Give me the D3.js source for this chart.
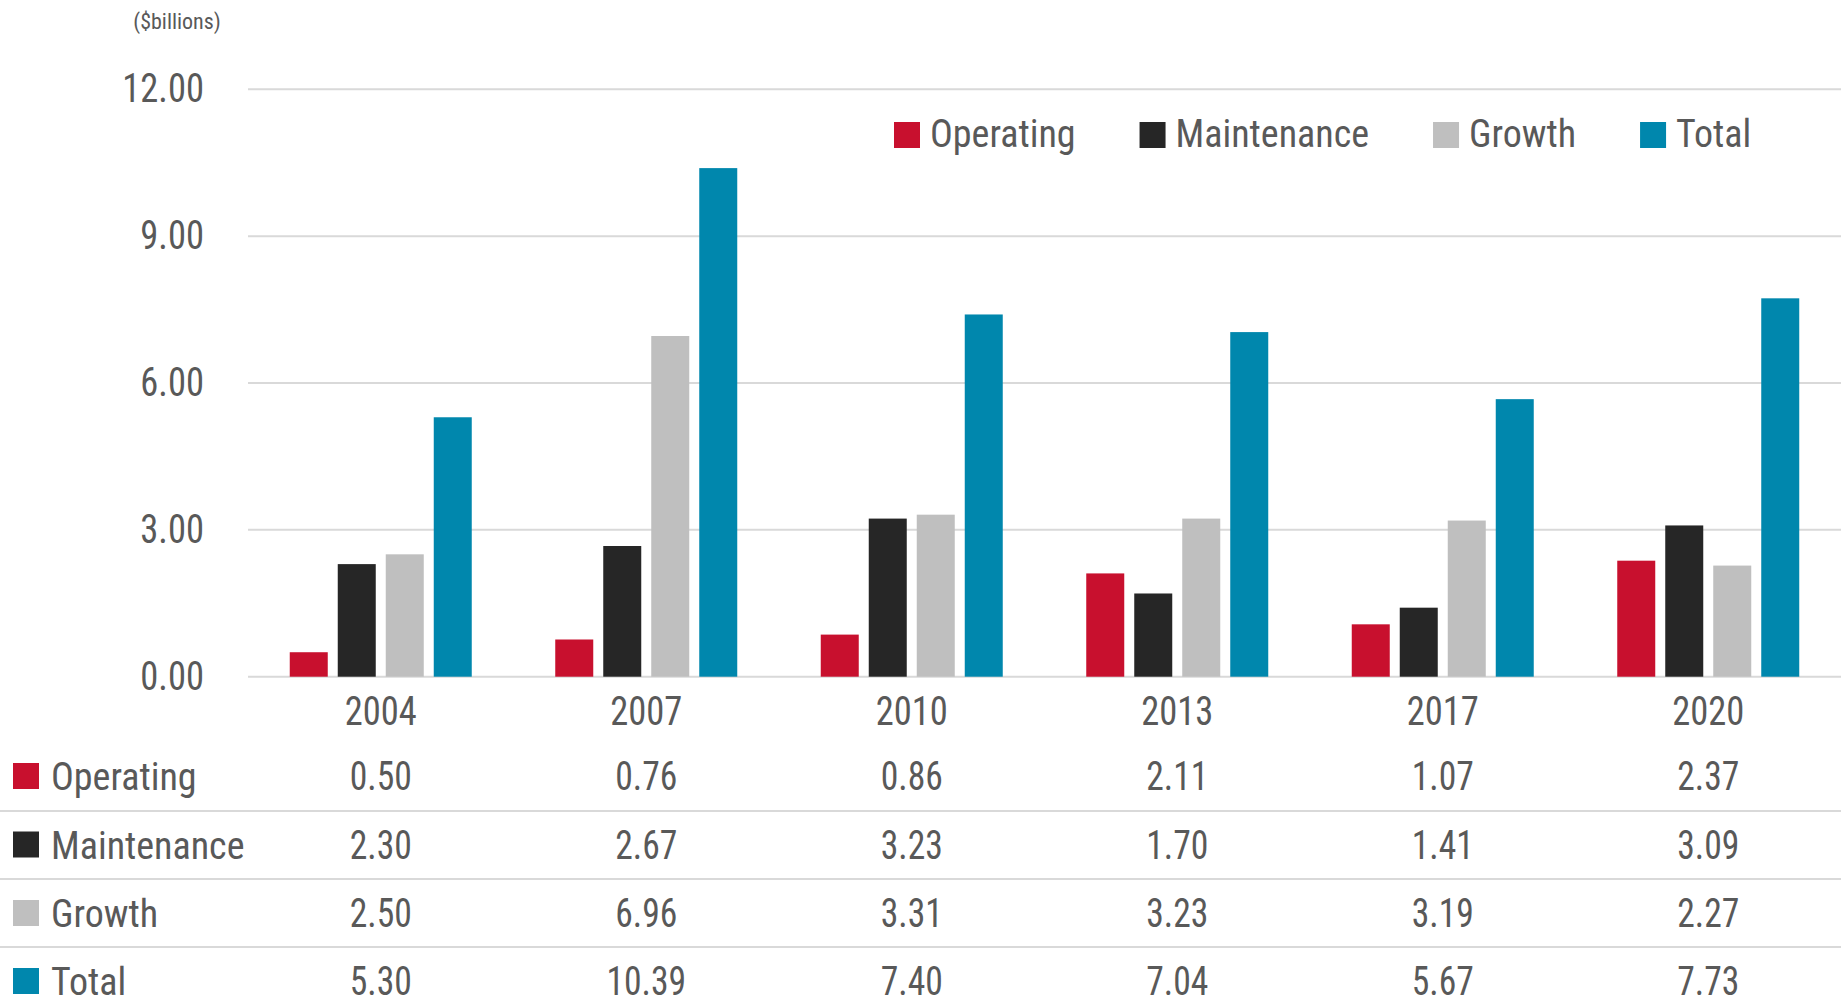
<!DOCTYPE html>
<html>
<head>
<meta charset="utf-8">
<script src="https://cdn.jsdelivr.net/npm/d3@7"></script>
<style>
  body { margin: 0; background: #fff; }
  svg text { font-family: "Liberation Sans Narrow", "Roboto Condensed", Roboto, sans-serif; fill: #595959; }
</style>
</head>
<body>
<svg id="chart" width="1847" height="1001"></svg>
<script>
var years = ["2004", "2007", "2010", "2013", "2017", "2020"];
var seriesNames = ["Operating", "Maintenance", "Growth", "Total"];
var operating = [0.50, 0.76, 0.86, 2.11, 1.07, 2.37];
var maintenance = [2.30, 2.67, 3.23, 1.70, 1.41, 3.09];
var growth = [2.50, 6.96, 3.31, 3.23, 3.19, 2.27];
var total = [5.30, 10.39, 7.40, 7.04, 5.67, 7.73];
var yTicks = [0, 3, 6, 9, 12];
var colors = ["#C8102E", "#262626", "#BFBFBF", "#0087AD"];

var values = [operating, maintenance, growth, total];
var narrow = "scale(0.89,1)"; // squeeze digits a bit, the original font is condensed

var svg = d3.select("#chart");
var plotLeft = 248, plotRight = 1841, plotTop = 89.3, plotBottom = 676.7;

var x0 = d3.scaleBand()
  .domain(years)
  .range([plotLeft, plotRight])
  .padding(0);

var groupW = 182;
var x1 = d3.scaleBand()
  .domain(seriesNames)
  .range([0, groupW])
  .paddingInner(10 / 48)
  .paddingOuter(0);

var y = d3.scaleLinear()
  .domain([0, 12])
  .range([plotBottom, plotTop]);

var color = d3.scaleOrdinal().domain(seriesNames).range(colors);

// gridlines
svg.append("g")
  .selectAll("line")
  .data(yTicks)
  .enter().append("line")
  .attr("x1", plotLeft)
  .attr("x2", plotRight)
  .attr("y1", function(d) { return y(d); })
  .attr("y2", function(d) { return y(d); })
  .attr("stroke", "#D9D9D9")
  .attr("stroke-width", 2);

// y axis labels
var yAxis = svg.append("g")
  .attr("transform", "translate(204,0)")
  .call(d3.axisLeft(y).tickValues(yTicks).tickFormat(d3.format(".2f")).tickSize(0).tickPadding(0));
yAxis.select(".domain").remove();
yAxis.attr("font-family", null);
yAxis.selectAll("text")
  .attr("font-size", 41)
  .attr("dy", "0.3em")
  .attr("transform", narrow);

svg.append("text")
  .attr("x", 177)
  .attr("y", 29)
  .attr("text-anchor", "middle")
  .attr("font-size", 22)
  .text("($billions)");

// bars
var groups = svg.append("g")
  .selectAll("g")
  .data(years)
  .enter().append("g")
  .attr("transform", function(d) { return "translate(" + (x0(d) + (x0.bandwidth() - groupW) / 2) + ",0)"; });

groups.selectAll("rect")
  .data(function(d, i) { return seriesNames.map(function(s, k) { return {key: s, value: values[k][i]}; }); })
  .enter().append("rect")
  .attr("x", function(d) { return x1(d.key); })
  .attr("y", function(d) { return y(d.value); })
  .attr("width", x1.bandwidth())
  .attr("height", function(d) { return y(0) - y(d.value); })
  .attr("fill", function(d) { return color(d.key); });

// x axis labels
var xAxis = svg.append("g")
  .attr("transform", "translate(0," + plotBottom + ")")
  .call(d3.axisBottom(x0).tickSize(0).tickPadding(0));
xAxis.select(".domain").remove();
xAxis.attr("font-family", null);
xAxis.selectAll("text")
  .attr("font-size", 41)
  .attr("dy", null)
  .attr("y", 48)
  .attr("transform", narrow);

// top legend
var legend = svg.append("g").attr("transform", "translate(894,122)");
var lx = 0;
seriesNames.forEach(function(s) {
  var item = legend.append("g").attr("transform", "translate(" + lx + ",0)");
  item.append("rect").attr("width", 26).attr("height", 26).attr("fill", color(s));
  var t = item.append("text")
    .attr("x", 36)
    .attr("y", 25)
    .attr("font-size", 38)
    .text(s);
  lx += 36 + t.node().getComputedTextLength() + 64;
});

// data table
var rowBase = [790, 858.5, 927, 995];
var sepY = [811, 879, 947];

svg.append("g")
  .selectAll("line")
  .data(sepY)
  .enter().append("line")
  .attr("x1", 0)
  .attr("x2", plotRight)
  .attr("y1", function(d) { return d; })
  .attr("y2", function(d) { return d; })
  .attr("stroke", "#D9D9D9")
  .attr("stroke-width", 2);

var rows = svg.append("g")
  .selectAll("g")
  .data(seriesNames)
  .enter().append("g")
  .attr("transform", function(d, i) { return "translate(0," + rowBase[i] + ")"; });

rows.append("rect")
  .attr("x", 13)
  .attr("y", -27)
  .attr("width", 26)
  .attr("height", 26)
  .attr("fill", function(d) { return color(d); });

rows.append("text")
  .attr("x", 51)
  .attr("font-size", 38)
  .text(function(d) { return d; });

rows.selectAll("text.val")
  .data(function(d, i) { return values[i]; })
  .enter().append("text")
  .attr("class", "val")
  .attr("transform", function(d, j) { return "translate(" + (x0(years[j]) + x0.bandwidth() / 2) + ",0) " + narrow; })
  .attr("text-anchor", "middle")
  .attr("font-size", 40)
  .text(function(d) { return d.toFixed(2); });
</script>
</body>
</html>
